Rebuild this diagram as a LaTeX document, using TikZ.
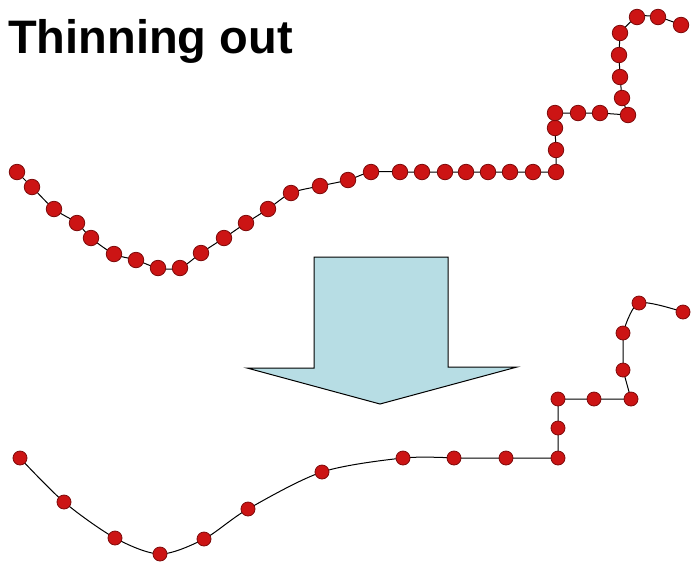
\documentclass[tikz,border=0pt]{standalone}
\usepackage{fontspec}
\setmainfont{Liberation Sans}
\usepackage{tikz}
\usetikzlibrary{calc}
\definecolor{dotred}{RGB}{204,20,20}
\definecolor{dotedge}{RGB}{125,10,10}
\definecolor{arrowblue}{RGB}{183,221,228}
\tikzset{
	dot/.style={circle,fill=dotred,draw=dotedge,line width=0.8pt,inner sep=0pt,minimum size=15.5pt},
	smalldot/.style={dot,minimum size=14pt},
	track/.style={line width=1pt,black},
}

\begin{document}
\begin{tikzpicture}[x=1pt,y=-1pt,inner sep=1.5pt]
\useasboundingbox (0,0) rectangle (691,566);

\node[anchor=base west,inner sep=0pt] (title) at (8,53)
	{\fontsize{47}{47}\selectfont\bfseries Thinning out};

%% "t" = points de la trace dense, "b" = points apres l'amincissement

\foreach \x/\y [count=\i] in {17/172,32/187,54/209,77/223,91/238,114/254,136/260,158/268,
	180/268,201/253,224/238,246/223,268/209,291/193,320/186,348/180,371/172,400/172,
	422/172,445/172,466/172,488/172,510/172,533/172,556/172,556/150,555/128,555/113,
	578/113,600/113,628/115,622/98,620/77,619/55,620/33,637/17,658/17,681/25}
	\coordinate (t\i) at (\x,\y);

\foreach \x/\y [count=\i] in {20/458,64/502,115/538,160/554,204/539,248/509,322/472,
	403/458,454/458,506/458,558/458,558/428,558/399,594/399,631/399,623/370,623/333,
	639/303,683/312}
	\coordinate (b\i) at (\x,\y);

\draw[track] plot[smooth] coordinates {(t1) (t2) (t3) (t4) (t5) (t6) (t7) (t8) (t9) (t10)
	(t11) (t12) (t13) (t14) (t15) (t16) (t17) (t18)}
	--(t19)--(t20)--(t21)--(t22)--(t23)--(t24)--(t25)--(t26)--(t27)--(t28)--(t29)--(t30)
	--(t31)--(t32)--(t33)--(t34)--(t35);
\draw[track] plot[smooth] coordinates {(t35) (t36) (t37) (t38)};

\draw[track] plot[smooth] coordinates {(b1) (b2) (b3) (b4) (b5) (b6) (b7) (b8) (b9)}
	--(b10)--(b11)--(b12)--(b13)--(b14)--(b15)--(b16)--(b17);
\draw[track] plot[smooth] coordinates {(b17) (b18) (b19)};

\foreach \i in {1,...,38}
	\node[dot] (dt\i) at (t\i) {};
\foreach \i in {1,...,19}
	\node[smalldot] (db\i) at (b\i) {};

%% la grosse fleche
\coordinate (Al) at (314,257);
\coordinate (Ar) at (448,257);
\coordinate (Wl) at (247,368);
\coordinate (Wr) at (517,367);
\coordinate (P) at (380,404);
\draw[fill=arrowblue,line width=1pt] (Al)--(Ar)--(Ar|-Wr)--(Wr)--(P)--(Wl)--(Al|-Wl)--cycle;
\end{tikzpicture}
\end{document}
